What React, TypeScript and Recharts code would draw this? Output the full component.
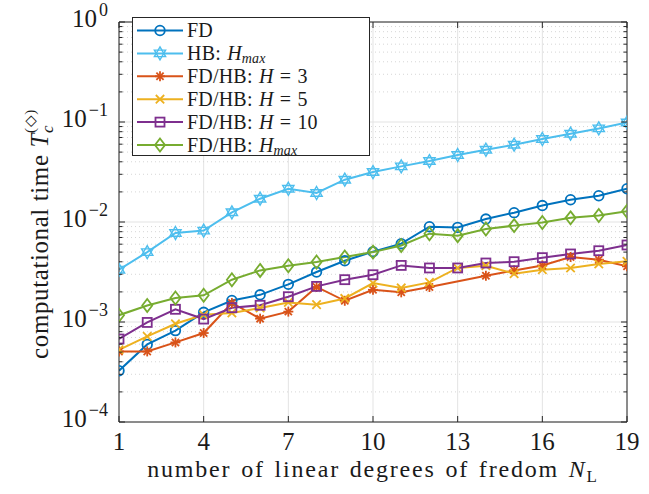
import React from "react";
import { LineChart, Line, XAxis, YAxis, ReferenceLine, Legend } from "recharts";

const N_L = [1, 2, 3, 4, 5, 6, 7, 8, 9, 10, 11, 12, 13, 14, 15, 16, 17, 18, 19];
const FD = [3.26e-4, 5.97e-4, 8.2e-4, 1.25e-3, 1.64e-3, 1.87e-3, 2.38e-3, 3.16e-3, 4.1e-3, 5.05e-3, 6.07e-3, 8.97e-3, 8.83e-3, 1.07e-2, 1.24e-2, 1.46e-2, 1.67e-2, 1.83e-2, 2.15e-2];
const HB_HMAX = [3.33e-3, 5.0e-3, 7.76e-3, 8.2e-3, 1.25e-2, 1.71e-2, 2.15e-2, 1.95e-2, 2.65e-2, 3.16e-2, 3.6e-2, 4.07e-2, 4.68e-2, 5.28e-2, 5.93e-2, 6.76e-2, 7.64e-2, 8.63e-2, 9.9e-2];
const FDHB_H3 = [5.08e-4, 5.08e-4, 6.25e-4, 7.76e-4, 1.55e-3, 1.08e-3, 1.27e-3, 2.24e-3, 1.63e-3, 2.1e-3, 1.98e-3, 2.24e-3, null, 2.9e-3, 3.28e-3, 3.68e-3, 4.47e-3, 4.2e-3, 3.6e-3];
const FDHB_H5 = [5.28e-4, 7.18e-4, 9.6e-4, 1.18e-3, 1.23e-3, 1.38e-3, 1.57e-3, 1.49e-3, 1.72e-3, 2.45e-3, 2.19e-3, 2.49e-3, 3.47e-3, 3.65e-3, 3.04e-3, 3.33e-3, 3.47e-3, 3.8e-3, 4.04e-3];
const FDHB_H10 = [6.76e-4, 9.9e-4, 1.34e-3, 1.07e-3, 1.39e-3, 1.47e-3, 1.79e-3, 2.27e-3, 2.65e-3, 2.97e-3, 3.68e-3, 3.47e-3, 3.47e-3, 3.89e-3, 4.01e-3, 4.4e-3, 4.79e-3, 5.16e-3, 5.89e-3];
const FDHB_HMAX = [1.17e-3, 1.46e-3, 1.74e-3, 1.85e-3, 2.65e-3, 3.28e-3, 3.65e-3, 3.98e-3, 4.47e-3, 5.0e-3, 5.83e-3, 7.64e-3, 7.3e-3, 8.5e-3, 9.2e-3, 9.9e-3, 1.1e-2, 1.16e-2, 1.28e-2];

const X_TICKS = [1, 4, 7, 10, 13, 16, 19];
const Y_MAJOR = [1e-4, 1e-3, 1e-2, 1e-1, 1];
const Y_MINOR = [1e-4, 1e-3, 1e-2, 1e-1].flatMap(d => [2, 3, 4, 5, 6, 7, 8, 9].map(m => m * d));

const SERIES = [
  { key: "fd", label: "FD", color: "#0072BD", shape: "circle", values: FD },
  { key: "hb", label: "HB: Hmax", color: "#4DBEEE", shape: "hexagram", values: HB_HMAX },
  { key: "h3", label: "FD/HB: H = 3", color: "#D95319", shape: "asterisk", values: FDHB_H3 },
  { key: "h5", label: "FD/HB: H = 5", color: "#EDB120", shape: "cross", values: FDHB_H5 },
  { key: "h10", label: "FD/HB: H = 10", color: "#7E2F8E", shape: "square", values: FDHB_H10 },
  { key: "hmax", label: "FD/HB: Hmax", color: "#77AC30", shape: "diamond", values: FDHB_HMAX },
];

const data = N_L.map((n, i) => {
  const row: any = { n };
  SERIES.forEach(s => { row[s.key] = s.values[i]; });
  return row;
});

const W = 649, H = 494;
const M = { top: 22, right: 22, left: 0, bottom: 0 };
const AXIS = "#262626";
const GRID = "#e3e3e3";
const FONT = "'Liberation Serif', serif";
const INK = "#1a1a1a";

function Marker({ shape, cx, cy, color }: any) {
  const sw = 1.8;
  if (cx == null || cy == null) return null;
  switch (shape) {
    case "circle":
      return <circle cx={cx} cy={cy} r={4.8} fill="none" stroke={color} strokeWidth={sw} />;
    case "hexagram": {
      const r = 6.5;
      const tri = (off: number) =>
        [0, 1, 2].map(k => {
          const a = ((off + k * 120) * Math.PI) / 180;
          return `${cx + r * Math.cos(a)},${cy + r * Math.sin(a)}`;
        }).join(" ");
      return (
        <g fill="none" stroke={color} strokeWidth={1.4}>
          <polygon points={tri(-90)} />
          <polygon points={tri(90)} />
        </g>
      );
    }
    case "asterisk": {
      const r = 5;
      const d = r * 0.72;
      return (
        <g stroke={color} strokeWidth={sw}>
          <line x1={cx - r} y1={cy} x2={cx + r} y2={cy} />
          <line x1={cx} y1={cy - r} x2={cx} y2={cy + r} />
          <line x1={cx - d} y1={cy - d} x2={cx + d} y2={cy + d} />
          <line x1={cx - d} y1={cy + d} x2={cx + d} y2={cy - d} />
        </g>
      );
    }
    case "cross": {
      const r = 4.2;
      return (
        <g stroke={color} strokeWidth={sw}>
          <line x1={cx - r} y1={cy - r} x2={cx + r} y2={cy + r} />
          <line x1={cx - r} y1={cy + r} x2={cx + r} y2={cy - r} />
        </g>
      );
    }
    case "square":
      return <rect x={cx - 4.5} y={cy - 4.5} width={9} height={9} fill="none" stroke={color} strokeWidth={sw} />;
    case "diamond":
      return (
        <polygon
          points={`${cx},${cy - 6.5} ${cx + 5},${cy} ${cx},${cy + 6.5} ${cx - 5},${cy}`}
          fill="none" stroke={color} strokeWidth={sw}
        />
      );
  }
  return null;
}

function YTick({ x, y, payload }: any) {
  const v = payload.value;
  const e = Math.round(Math.log10(v));
  const major = Math.abs(Math.log10(v) - e) < 1e-6;
  const len = major ? 6 : 3.5;
  const ax = x + 11;
  const right = W - M.right;
  return (
    <g>
      <line x1={ax} x2={ax + len} y1={y} y2={y} stroke={AXIS} strokeWidth={1} />
      <line x1={right} x2={right - len} y1={y} y2={y} stroke={AXIS} strokeWidth={1} />
      {major && (
        <text x={x} y={y + 5} textAnchor="end" fontFamily={FONT} fontSize={25} fill={INK}>
          10
          <tspan dx={2} dy={-11} fontSize={18}>{e === 0 ? "0" : `\u2212${-e}`}</tspan>
        </text>
      )}
    </g>
  );
}

function XTick({ x, y, payload }: any) {
  return (
    <g>
      <line x1={x} x2={x} y1={y} y2={y - 6} stroke={AXIS} strokeWidth={1} />
      <line x1={x} x2={x} y1={M.top} y2={M.top + 6} stroke={AXIS} strokeWidth={1} />
      <text x={x} y={y + 28} textAnchor="middle" fontFamily={FONT} fontSize={25} fill={INK}>
        {payload.value}
      </text>
    </g>
  );
}

function XLabel({ viewBox }: any) {
  const cx = viewBox.x + viewBox.width / 2;
  return (
    <text
      x={cx} y={viewBox.y + 55} textAnchor="middle" fontFamily={FONT} fontSize={24}
      style={{ letterSpacing: "1.8px", wordSpacing: "2px" }} fill={INK}
    >
      number of linear degrees of fredom <tspan fontStyle="italic">N</tspan>
      <tspan dy={5} fontSize={17}>L</tspan>
    </text>
  );
}

function YLabel({ viewBox }: any) {
  const cy = viewBox.y + viewBox.height / 2 + 12;
  const cx = 48;
  return (
    <text
      x={cx} y={cy} transform={`rotate(-90 ${cx} ${cy})`} textAnchor="middle"
      fontFamily={FONT} fontSize={25} style={{ letterSpacing: "0.6px" }} fill={INK}
    >
      computational time <tspan fontStyle="italic">T</tspan>
      <tspan dy={5} fontSize={17} fontStyle="italic">c</tspan>
      <tspan dx={-8} dy={-18} fontSize={15}>(◇)</tspan>
    </text>
  );
}

function LegendLabel({ label }: { label: string }) {
  if (label.endsWith("Hmax")) {
    return (
      <>
        {label.replace("Hmax", "")}
        <tspan fontStyle="italic">H</tspan>
        <tspan fontStyle="italic" fontSize={14} dy={3}>max</tspan>
      </>
    );
  }
  const m = label.match(/^(.*)H = (\d+)$/);
  if (m) {
    return (
      <>
        {m[1]}
        <tspan fontStyle="italic">H</tspan> = {m[2]}
      </>
    );
  }
  return <>{label}</>;
}

function LegendBox() {
  const w = 238, h = 139, row = 22.9;
  return (
    <svg width={w} height={h} style={{ display: "block", overflow: "visible" }}>
      <rect x={0.5} y={0.5} width={w - 1} height={h - 1} fill="#fff" stroke={AXIS} strokeWidth={1} />
      {SERIES.map((s, i) => {
        const cy = 13.5 + i * row;
        return (
          <g key={s.key}>
            <line x1={5} x2={51} y1={cy} y2={cy} stroke={s.color} strokeWidth={2} />
            <Marker shape={s.shape} cx={28} cy={cy} color={s.color} />
            <text
              x={55} y={cy + 6.5} fontFamily={FONT} fontSize={20}
              style={{ letterSpacing: "0.2px", wordSpacing: "1px" }} fill={INK}
            >
              <LegendLabel label={s.label} />
            </text>
          </g>
        );
      })}
    </svg>
  );
}

export default function App() {
  return (
    <div style={{ position: "absolute", left: 0, top: 0, width: W, height: H, background: "#fff" }}>
      <LineChart width={W} height={H} data={data} margin={M}>
        {X_TICKS.map(t => (
          <ReferenceLine key={`gx${t}`} x={t} stroke={GRID} strokeWidth={1} />
        ))}
        {Y_MINOR.map(t => (
          <ReferenceLine key={`gm${t}`} y={t} stroke="#d6d6d6" strokeWidth={1} strokeDasharray="1 3" />
        ))}
        {Y_MAJOR.map(t => (
          <ReferenceLine key={`gy${t}`} y={t} stroke={GRID} strokeWidth={1} />
        ))}
        <ReferenceLine y={1} stroke={AXIS} strokeWidth={1} />
        <ReferenceLine x={19} stroke={AXIS} strokeWidth={1} />
        <XAxis
          dataKey="n" type="number" domain={[1, 19]} ticks={X_TICKS} height={72}
          stroke={AXIS} tickLine={false} tickSize={0} tickMargin={0} tick={<XTick />}
          label={{ content: <XLabel /> } as any} allowDataOverflow
        />
        <YAxis
          type="number" scale="log" domain={[1e-4, 1]} ticks={[...Y_MAJOR, ...Y_MINOR]} width={119}
          stroke={AXIS} tickLine={false} tickSize={0} tickMargin={11} tick={<YTick />}
          interval={0} allowDataOverflow label={{ content: <YLabel /> } as any}
        />
        {SERIES.map(s => (
          <Line
            key={s.key} dataKey={s.key} stroke={s.color} strokeWidth={2} isAnimationActive={false}
            connectNulls
            dot={(p: any) => (
              <g key={`${s.key}-${p.index}`}>
                <Marker shape={s.shape} cx={p.cx} cy={p.cy} color={s.color} />
              </g>
            )}
            activeDot={false}
          />
        ))}
        <Legend
          layout="horizontal" verticalAlign="middle" align="center"
          content={() => <LegendBox />}
          wrapperStyle={{ position: "absolute", left: 132, top: 17, right: "auto", bottom: "auto", width: 238, height: 139 }}
        />
      </LineChart>
    </div>
  );
}
